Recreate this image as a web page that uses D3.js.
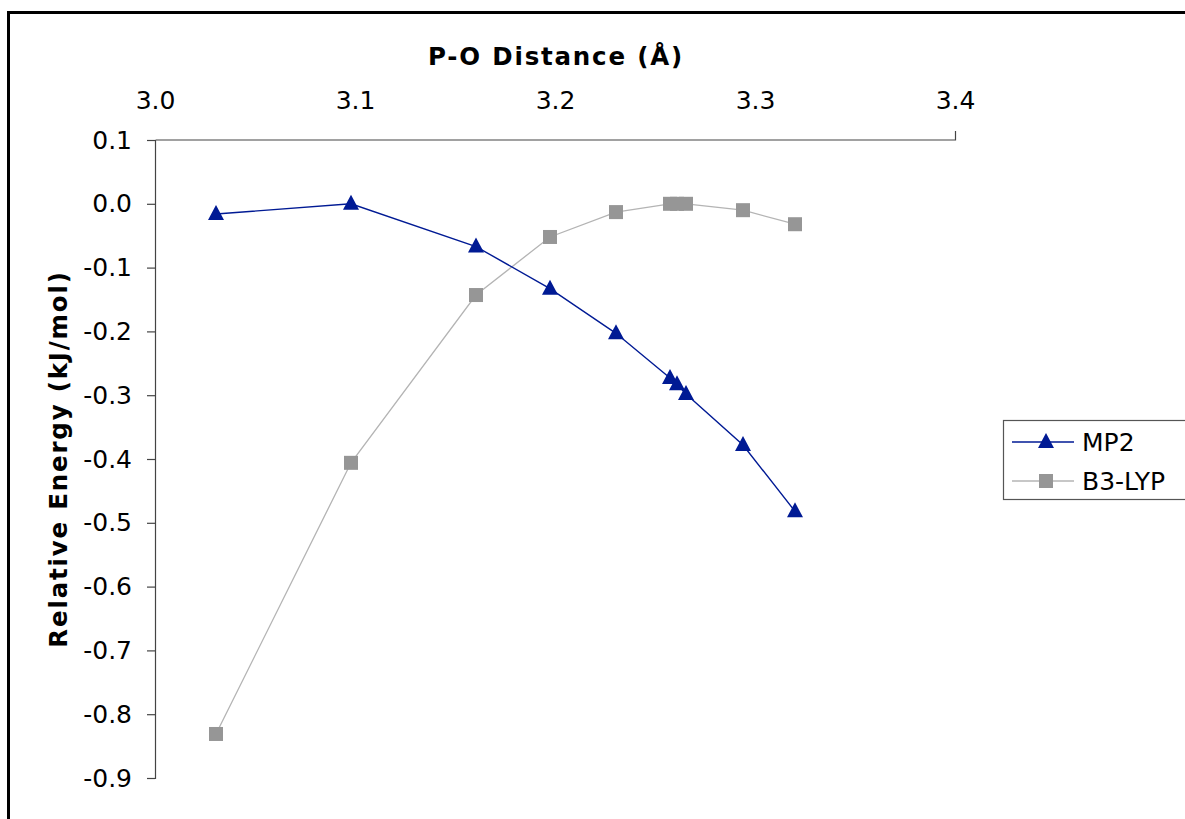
<!DOCTYPE html>
<html><head><meta charset="utf-8">
<script src="https://cdn.jsdelivr.net/npm/d3@7"></script>
<style>body{margin:0;background:#fff;}svg{display:block;font-family:"DejaVu Sans",Verdana,sans-serif;}</style>
</head><body>
<svg id="c" width="1185" height="819"></svg>
<script>
const xTicks = [3.0, 3.1, 3.2, 3.3, 3.4];
const yTicks = [0.1, 0.0, -0.1, -0.2, -0.3, -0.4, -0.5, -0.6, -0.7, -0.8, -0.9];
const distance = [3.0305, 3.098, 3.1605, 3.1975, 3.2305, 3.2575, 3.261, 3.2655, 3.294, 3.32];
const mp2 = [-0.016, 0.0, -0.067, -0.133, -0.203, -0.273, -0.283, -0.298, -0.378, -0.482];
const b3lyp = [-0.831, -0.406, -0.143, -0.052, -0.013, 0.0, 0.0, 0.0, -0.010, -0.032];
const seriesNames = ["MP2", "B3-LYP"];

const svg = d3.select("#c");
svg.append("rect").attr("x", 8.5).attr("y", 12.5).attr("width", 1300).attr("height", 900)
  .attr("fill", "none").attr("stroke", "#000").attr("stroke-width", 3);

const x = d3.scaleLinear().domain([3.0, 3.4]).range([155, 955]);
const y = d3.scaleLinear().domain([0.1, -0.9]).range([140, 778]);

const fmt = d => d3.format(".1f")(d).replace("\u2212", "-");
const xAxis = svg.append("g").attr("transform", "translate(0,140)")
  .call(d3.axisTop(x).tickValues(xTicks).tickFormat(fmt).tickSize(9).tickPadding(22));
const yAxis = svg.append("g").attr("transform", "translate(155,0)")
  .call(d3.axisLeft(y).tickValues(yTicks).tickFormat(fmt).tickSize(8).tickPadding(15));
[xAxis, yAxis].forEach(a => {
  a.select(".domain").attr("stroke", "#444").attr("stroke-width", 1.2);
  a.selectAll(".tick line").attr("stroke", "#444").attr("stroke-width", 1.2);
  a.selectAll("text").attr("font-size", 25).attr("fill", "#000").attr("font-family", "DejaVu Sans");
});
xAxis.selectAll(".tick line").attr("y2", 0);
xAxis.select(".domain").attr("d", "M155.5,0H955.5V-9");

svg.append("text").attr("x", 556).attr("y", 65).attr("text-anchor", "middle")
  .attr("font-size", 24.5).attr("font-weight", "bold").attr("letter-spacing", 1.8).text("P-O Distance (Å)");
svg.append("text").attr("transform", "translate(67,459) rotate(-90)").attr("text-anchor", "middle")
  .attr("font-size", 24.5).attr("font-weight", "bold").attr("letter-spacing", 1.8).text("Relative Energy (kJ/mol)");

const line = d3.line();
const bPts = distance.map((d, i) => [x(d), y(b3lyp[i])]);
const mPts = distance.map((d, i) => [x(d), y(mp2[i])]);

svg.append("path").attr("d", line(bPts)).attr("fill", "none").attr("stroke", "#b4b4b4").attr("stroke-width", 1.3);
svg.selectAll(".sq").data(bPts).enter().append("rect")
  .attr("x", d => d[0] - 7).attr("y", d => d[1] - 7).attr("width", 14).attr("height", 14).attr("fill", "#969696");

svg.append("path").attr("d", line(mPts)).attr("fill", "none").attr("stroke", "#001a94").attr("stroke-width", 1.4);
const tri = (cx, cy) => `M${cx},${cy-9}L${cx+8},${cy+6}L${cx-8},${cy+6}Z`;
svg.selectAll(".tri").data(mPts).enter().append("path")
  .attr("d", d => tri(d[0], d[1])).attr("fill", "#001a94");

svg.append("rect").attr("x", 1003.5).attr("y", 420.5).attr("width", 300).attr("height", 79)
  .attr("fill", "#fff").attr("stroke", "#555").attr("stroke-width", 1.2);
const lg = [{name: seriesNames[0], y: 442, c: "#001a94", t: "tri"}, {name: seriesNames[1], y: 481, c: "#b4b4b4", t: "sq"}];
lg.forEach(e => {
  svg.append("line").attr("x1", 1012).attr("x2", 1074).attr("y1", e.y).attr("y2", e.y).attr("stroke", e.c).attr("stroke-width", 1.3);
  if (e.t === "tri") svg.append("path").attr("d", tri(1046, e.y)).attr("fill", "#001a94");
  else svg.append("rect").attr("x", 1039).attr("y", e.y - 7).attr("width", 14).attr("height", 14).attr("fill", "#969696");
  svg.append("text").attr("x", 1082).attr("y", e.y + 9).attr("font-size", 25).text(e.name);
});
</script>
</body></html>
